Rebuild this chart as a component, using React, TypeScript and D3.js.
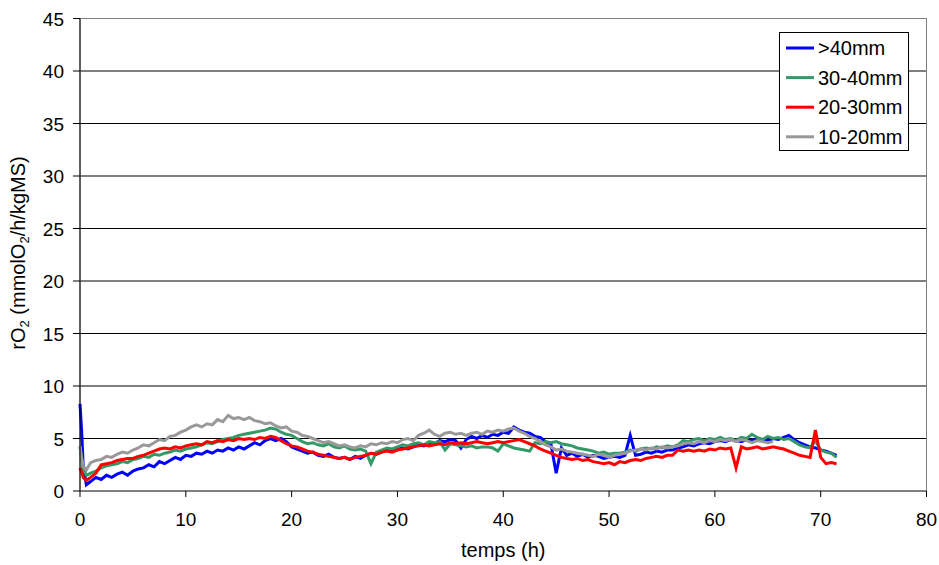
import React from "react";
import * as d3 from "d3";

const HEAD_TIMES = [0, 0.15, 0.3, 0.6];
const GRID_TIMES = d3.range(1, 71.51, 0.5);
const times = [...HEAD_TIMES, ...GRID_TIMES];

const blue = [
  8.3, 5.8, 2.5, 0.6,
  0.9, 1.3, 1.1, 1.5, 1.3, 1.6, 1.8, 1.5, 1.9, 2.1,
  2.2, 2.5, 2.3, 2.8, 2.6, 2.9, 3.2, 3.0, 3.4, 3.3,
  3.6, 3.5, 3.8, 3.6, 3.9, 3.8, 4.1, 3.9, 4.2, 4.0,
  4.3, 4.6, 4.4, 4.8, 5.0, 4.8, 5.0, 4.7, 4.2, 4.0,
  3.8, 3.6, 3.7, 3.4, 3.3, 3.5, 3.2, 3.1, 3.2, 3.0,
  3.3, 3.1, 3.4, 3.6, 3.5, 3.7, 3.9, 3.8, 4.0, 4.1,
  4.0, 4.2, 4.4, 4.3, 4.6, 4.5, 4.8, 4.7, 4.9, 4.8,
  4.1, 4.9, 5.2, 5.0, 5.3, 5.1, 5.4, 5.3, 5.6, 5.5,
  6.1, 5.8, 5.6, 5.5, 5.2, 5.1, 4.7, 4.5, 1.7, 4.1,
  3.4, 3.6, 3.3, 3.5, 3.2, 3.4, 3.3, 3.1, 3.2, 3.3,
  3.2, 3.4, 5.3, 3.4, 3.5, 3.7, 3.6, 3.8, 3.7, 3.9,
  3.9, 4.1, 4.2, 4.4, 4.3, 4.5, 4.6, 4.5, 4.7, 4.8,
  4.7, 4.9, 4.8, 4.7, 4.9, 4.8, 5.0, 4.9, 4.8, 5.0,
  4.9, 5.1, 5.3, 4.9, 4.6, 4.4, 4.2, 4.1, 3.9, 3.8,
  3.6, 3.4,
];

const green = [
  4.2, 3.0, 2.0, 1.5,
  1.7, 1.9, 2.2, 2.4, 2.5, 2.6, 2.8, 2.7, 3.0, 3.1,
  3.3, 3.2, 3.5, 3.4, 3.6, 3.7, 3.9, 3.8, 4.0, 4.1,
  4.2, 4.4, 4.6, 4.5, 4.7, 4.9, 5.0, 5.1, 5.3, 5.4,
  5.5, 5.6, 5.7, 5.8, 6.0, 5.9, 5.6, 5.4, 5.3, 5.0,
  4.7, 4.5, 4.6, 4.4, 4.3, 4.5, 4.2, 4.1, 4.3, 4.0,
  3.9, 4.0, 3.8, 2.6, 3.7, 3.9, 4.1, 4.0, 4.2, 4.4,
  4.3, 4.5, 4.6, 4.4, 4.7, 4.6, 4.7, 3.9, 4.5, 4.4,
  4.3, 4.2, 4.3, 4.1, 4.2, 4.2, 4.1, 3.8, 4.5, 4.3,
  4.1, 4.0, 3.9, 3.8, 4.6, 4.5, 4.7, 4.6, 4.7, 4.5,
  4.4, 4.3, 4.1, 4.0, 3.9, 3.8, 3.6, 3.7, 3.5, 3.6,
  3.6, 3.7, 3.9, 3.8, 4.0, 4.1, 4.0, 4.2, 4.1, 4.3,
  4.2, 4.4, 4.8, 4.7, 4.9, 5.0, 4.8, 5.0, 4.9, 5.1,
  4.9, 5.0, 4.8, 5.1, 5.0, 5.4, 5.1, 4.9, 5.2, 5.0,
  5.1, 4.9, 5.0, 4.7, 4.4, 4.2, 4.1, 4.8, 3.9, 3.7,
  3.6, 3.2,
];

const red = [
  2.2, 1.8, 1.3, 1.0,
  1.3, 1.7, 2.5, 2.6, 2.7, 2.9, 3.0, 3.1, 3.1, 3.3,
  3.4, 3.6, 3.8, 4.0, 4.1, 4.0, 4.2, 4.1, 4.3, 4.4,
  4.5, 4.4, 4.7, 4.6, 4.8, 4.7, 4.9, 4.8, 5.0, 4.9,
  5.0, 4.9, 5.1, 5.0, 5.2, 5.1, 4.8, 4.5, 4.3, 4.2,
  4.0, 3.8, 3.7, 3.5, 3.4, 3.3, 3.2, 3.1, 3.2, 3.0,
  3.2, 3.3, 3.4, 3.6, 3.5, 3.7, 3.8, 3.7, 3.9, 4.0,
  4.1, 4.2, 4.3, 4.4, 4.3, 4.4, 4.5, 4.4, 4.6, 4.5,
  4.6, 4.5, 4.6, 4.7, 4.6, 4.5, 4.6, 4.7, 4.6, 4.7,
  4.8, 4.9, 4.7, 4.5, 4.3, 4.0, 3.8, 3.6, 3.4, 3.2,
  3.1, 3.0, 3.1, 2.9, 3.0, 2.8, 2.7, 2.6, 2.7, 2.5,
  2.8, 2.7, 2.9, 3.0, 2.9, 3.1, 3.2, 3.3, 3.2, 3.4,
  3.4, 3.9, 3.8, 3.9, 3.8, 3.9, 3.8, 4.0, 3.9, 4.1,
  4.0, 4.1, 2.2, 4.2, 4.0, 4.1, 4.2, 4.0, 4.1, 4.2,
  4.1, 4.0, 3.8, 3.6, 3.4, 3.3, 3.2, 5.8, 3.2, 2.6,
  2.7, 2.6,
];

const gray: (number | null)[] = [
  4.3, 3.2, 2.4, 2.0,
  2.7, 2.9, 3.0, 3.3, 3.2, 3.5, 3.7, 3.6, 3.9, 4.1,
  4.4, 4.3, 4.6, 4.9, 4.8, 5.2, 5.3, 5.6, 5.8, 6.1,
  6.3, 6.1, 6.4, 6.3, 6.8, 6.6, 7.2, 6.9, 7.0, 6.8,
  7.0, 6.7, 6.6, 6.4, 6.5, 6.2, 6.0, 6.1, 5.7, 5.6,
  5.3, 5.2, 5.0, 4.8, 4.6, 4.7, 4.5, 4.3, 4.4, 4.2,
  4.1, 4.3, 4.2, 4.5, 4.4, 4.6, 4.5, 4.7, 4.6, 4.9,
  5.0, 4.8, 5.3, 5.5, 5.8, 5.4, 5.2, 5.5, 5.6, 5.4,
  5.5, 5.3, 5.5, 5.6, 5.4, 5.7, 5.6, 5.8, 5.7, 5.9,
  6.0, 5.7, 5.5, 5.2, 5.0, 4.7, 4.4, 4.2, 3.9, 4.0,
  3.8, 3.7, 3.6, 3.5, 3.4, 3.3, 3.5, 3.4, 3.2, 3.4,
  3.5, 3.6, 3.8, 3.9, 4.0, 3.9, 4.1, 4.0, 4.2, 4.1,
  4.2, 4.3, 4.5, 4.6, 4.5, 4.7, 4.6, 4.8, 4.7, 4.9,
  4.8, 4.9, 4.7, 4.9, 4.8, 4.6, 4.8, 4.7, 4.6, 4.7,
  null, null, null, null, null, null, null, null, null, null,
  null, null,
];

const seriesNames = [">40mm", "30-40mm", "20-30mm", "10-20mm"];
const seriesColors = ["#0000FF", "#339966", "#FF0000", "#999999"];
const seriesValues = [blue, green, red, gray];

const yTicks = [0, 5, 10, 15, 20, 25, 30, 35, 40, 45];
const xTicks = [0, 10, 20, 30, 40, 50, 60, 70, 80];

const FONT = "'Liberation Sans', Arial, sans-serif";

export default function App() {
  const W = 939, H = 565;
  const x = d3.scaleLinear().domain([0, 80]).range([80, 926.5]);
  const y = d3.scaleLinear().domain([0, 45]).range([491, 18.5]);

  const line = d3
    .line<[number, number | null]>()
    .defined((d) => d[1] !== null)
    .x((d) => x(d[0]))
    .y((d) => y(d[1] as number));

  const x0 = x(0), x1 = x(80), y0 = y(0), y1 = y(45);

  return (
    <svg width={W} height={H} style={{ position: "absolute", left: 0, top: 0, background: "#fff" }} fontFamily={FONT}>
      <rect x={0} y={0} width={W} height={H} fill="#fff" />
      {yTicks.filter((t) => t > 0 && t < 45).map((t) => (
        <line key={"g" + t} x1={x0} x2={x1} y1={y(t)} y2={y(t)} stroke="#000" strokeWidth={1} />
      ))}
      <rect x={x0} y={y1} width={x1 - x0} height={y0 - y1} fill="none" stroke="#808080" strokeWidth={1} />
      {seriesValues.map((vals, i) => (
        <path
          key={seriesNames[i]}
          d={line(times.map((t, k) => [t, vals[k]] as [number, number | null])) || ""}
          fill="none"
          stroke={seriesColors[i]}
          strokeWidth={3}
          strokeLinejoin="miter"
        />
      ))}
      <line x1={x0} x2={x0} y1={y1} y2={y0} stroke="#000" />
      <line x1={x0} x2={x1} y1={y0} y2={y0} stroke="#404040" />
      {yTicks.map((t) => (
        <g key={"y" + t}>
          <line x1={x0 - 7} x2={x0} y1={y(t)} y2={y(t)} stroke="#000" />
          <text x={64} y={y(t) + 7} textAnchor="end" fontSize={19} fill="#000">{t}</text>
        </g>
      ))}
      {xTicks.map((t) => (
        <g key={"x" + t}>
          <line x1={x(t)} x2={x(t)} y1={y0} y2={y0 + 6} stroke="#000" />
          <text x={x(t)} y={525.5} textAnchor="middle" fontSize={19} fill="#000">{t}</text>
        </g>
      ))}
      <text x={(x0 + x1) / 2} y={557} textAnchor="middle" fontSize={20} fill="#000">temps (h)</text>
      <text transform={`translate(25, 253) rotate(-90)`} textAnchor="middle" fontSize={20} fill="#000">
        rO<tspan fontSize={13} dy={4}>2</tspan>
        <tspan dy={-4}> (mmolO</tspan>
        <tspan fontSize={13} dy={4}>2</tspan>
        <tspan dy={-4}>/h/kgMS)</tspan>
      </text>
      <rect x={779.5} y={32.5} width={129} height={118} fill="#fff" stroke="#000" strokeWidth={1} />
      {seriesNames.map((n, i) => {
        const cy = 48 + i * 29.6;
        return (
          <g key={"l" + n}>
            <line x1={786} x2={814} y1={cy} y2={cy} stroke={seriesColors[i]} strokeWidth={3} />
            <text x={818} y={cy + 7} fontSize={20} fill="#000">{n}</text>
          </g>
        );
      })}
    </svg>
  );
}
